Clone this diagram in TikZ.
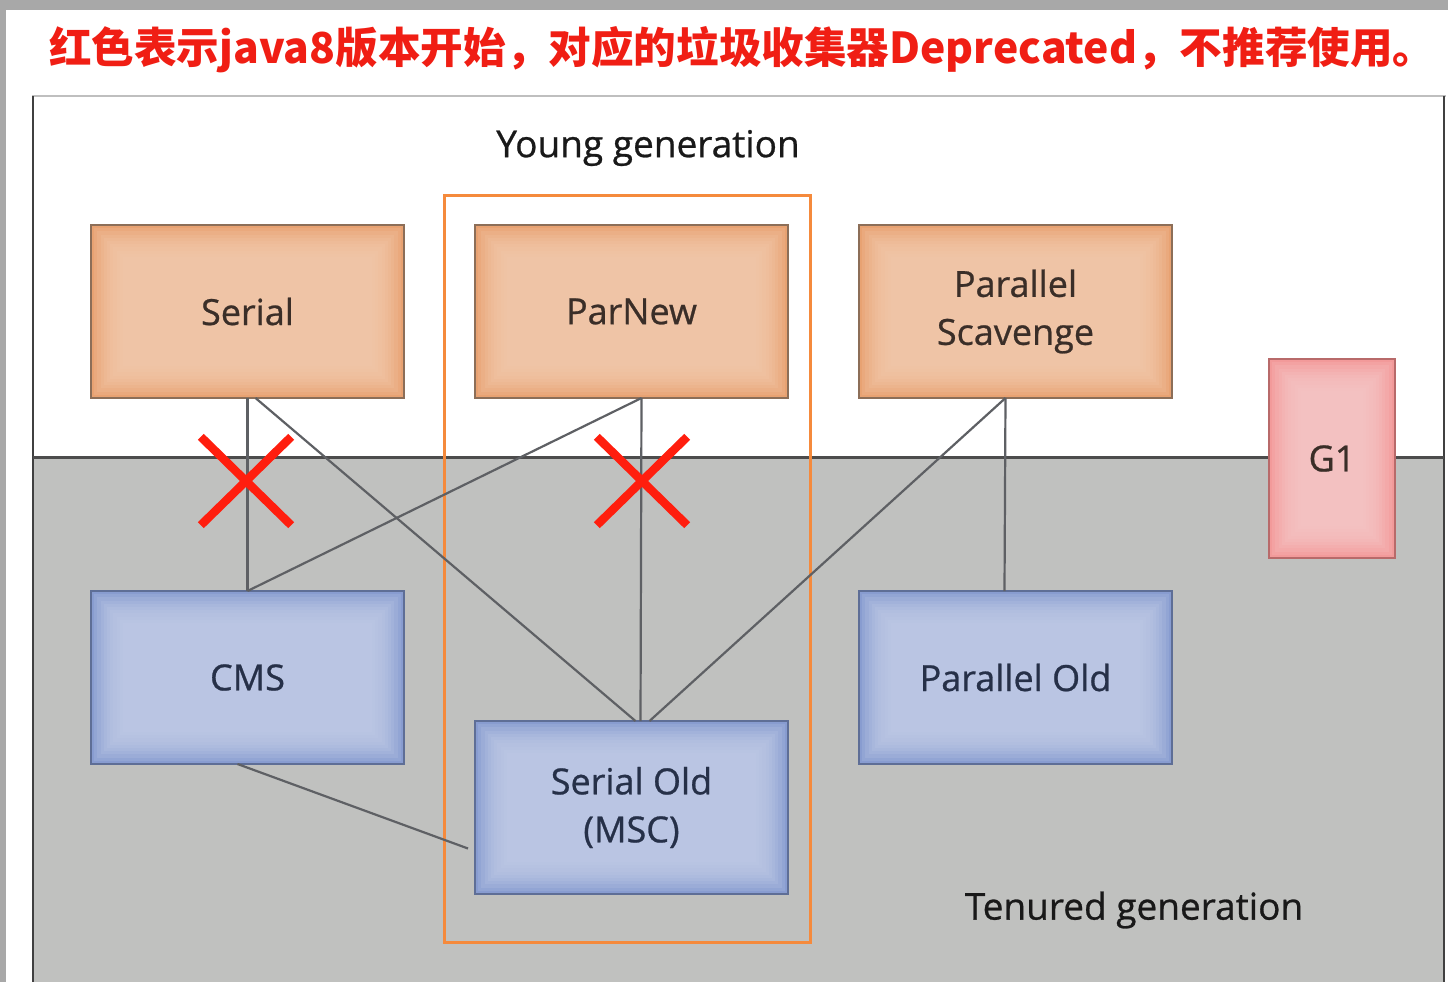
\documentclass[tikz,border=0pt]{standalone}
\usepackage{fontspec}
\setmainfont{Open Sans}
\newfontfamily\gcfont[FakeBold=0.7]{Open Sans}
\newfontfamily\cjk{Noto Sans CJK SC}
\usetikzlibrary{positioning,shapes.misc}
\definecolor{gcOrange}{HTML}{E8A272}
\definecolor{gcOrangeLight}{HTML}{F4CDB2}
\definecolor{gcOrangeDraw}{HTML}{8C6E58}
\definecolor{gcOrangeText}{HTML}{3A2E28}
\definecolor{gcBlue}{HTML}{889CD0}
\definecolor{gcBlueLight}{HTML}{C4CEE8}
\definecolor{gcBlueDraw}{HTML}{5E6E96}
\definecolor{gcBlueText}{HTML}{263048}
\definecolor{gcPink}{HTML}{F29A9A}
\definecolor{gcPinkLight}{HTML}{F8CACA}
\definecolor{gcPinkDraw}{HTML}{B86A6A}
\definecolor{gcTenured}{HTML}{C0C1BF}
\definecolor{gcFrame}{HTML}{F58A3C}
\definecolor{gcLink}{HTML}{5E6064}
\definecolor{gcCross}{HTML}{FF1E0E}
\definecolor{gcTitle}{HTML}{F01E14}
\definecolor{gcEdge}{HTML}{A8A8A8}

\begin{document}
\begin{tikzpicture}[
  x=0.5pt,y=-0.5pt,
  glow/.style={path picture={
    \foreach \k in {1,...,10}
      \fill[#1,opacity=0.18] ([shift={(\k*1.6pt,-\k*1.6pt)}]path picture bounding box.north west)
        rectangle ([shift={(-\k*1.6pt,\k*1.6pt)}]path picture bounding box.south east);}},
  gc/.style={rectangle,line width=1.1pt,inner sep=0pt,outer sep=0pt,align=center,
    minimum width=156.5pt,minimum height=86.5pt,font=\gcfont\fontsize{18}{24}\selectfont},
  young/.style={gc,draw=gcOrangeDraw,fill=gcOrange,glow=gcOrangeLight,text=gcOrangeText},
  old/.style={gc,draw=gcBlueDraw,fill=gcBlue,glow=gcBlueLight,text=gcBlueText},
  link/.style={draw=gcLink,line width=1.1pt},
  nogo/.style={cross out,draw=gcCross,line width=4.2pt,minimum width=41pt,minimum height=40pt,inner sep=0pt},
  area/.style={font=\gcfont\fontsize{18.5}{22}\selectfont,text=black!90}
]
\useasboundingbox (0,0) rectangle (1448,982);
% page and generations
\fill[gcEdge] (0,0) rectangle (1448,982);
\fill[white] (6,10) rectangle (1448,982);
\fill[gcTenured] (33,458) rectangle (1444,982);
\draw[black!25,line width=1pt] (32,96) -- (1446,96);
\draw[black!75,line width=1.2pt] (33,96) -- (33,982);
\draw[black!75,line width=1.2pt] (1444,96) -- (1444,982);
\draw[black!70,line width=1.5pt] (33,457) -- (1444,457);
\draw[gcFrame,line width=1.5pt] (444,195) rectangle (810,942);

\node[anchor=west,text=gcTitle,font=\cjk\bfseries\fontsize{21.3}{26}\selectfont] (title) at (42,50)
  {红色表示java8版本开始，对应的垃圾收集器Deprecated，不推荐使用。};
\node[area] (younglbl) at (648,148) {Young generation};
\node[area] (tenuredlbl) at (1134,910) {Tenured generation};

% collectors
\node[young] (serial) at (247.5,311.5) {Serial};
\node[young,right=35.5pt of serial] (parnew) {ParNew};
\node[young,right=35.5pt of parnew] (pscav) {Parallel\\Scavenge};
\node[old,below=96.5pt of serial] (cms) {CMS};
\node[old,below=161.5pt of parnew] (serialold) {Serial Old\\(MSC)};
\node[old,below=96.5pt of pscav] (parold) {Parallel Old};
\node[gc,draw=gcPinkDraw,fill=gcPink,glow=gcPinkLight,minimum width=63pt,minimum height=99.5pt,
  text=gcOrangeText] (g1) at (1332,458.5) {G1};

% combinations
\coordinate (parnewFoot) at ([xshift=5pt]parnew.south);
\coordinate (pscavFoot) at ([xshift=-5pt]pscav.south);
\coordinate (oldTop) at ([xshift=4.5pt]serialold.north);
\draw[link] (serial.south) -- (cms.north);
\draw[link] ([xshift=4pt]serial.south) -- ([xshift=2pt]serialold.north);
\draw[link] (parnewFoot) -- (cms.north);
\draw[link] (parnewFoot) -- (oldTop);
\draw[link] (pscavFoot) -- ([xshift=9pt]serialold.north);
\draw[link] (pscavFoot) -- ([xshift=-5.5pt]parold.north);
\draw[link] ([xshift=-5pt]cms.south) -- ([xshift=-3.5pt,yshift=-20.5pt]serialold.west);

% deprecated pairs
\node[nogo] (xserialcms) at (246,481) {};
\node[nogo] (xparnewold) at (642,481) {};
\end{tikzpicture}
\end{document}
